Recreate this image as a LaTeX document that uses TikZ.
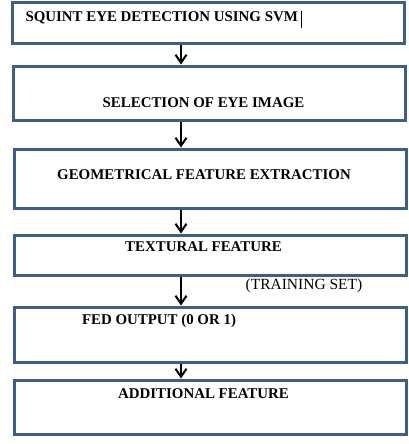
\documentclass[tikz,border=0pt]{standalone}
\usepackage{fontspec}
\setmainfont{Liberation Serif}
\usetikzlibrary{arrows.meta, positioning}
\definecolor{cframe}{HTML}{3B5E8C}
\tikzset{
  every picture/.style={line width=1pt},
  box/.style={draw=cframe, line width=3pt, minimum width=392pt, inner sep=0pt},
  arrow/.style={-{Straight Barb[length=8pt, width=11pt, line width=2pt]}, draw=black, line width=2.4pt},
  label/.style={font=\fontsize{14.9}{17}\selectfont\bfseries, inner sep=0pt},
  note/.style={font=\fontsize{15.5}{17}\selectfont, inner sep=0pt},
}
\begin{document}
\begin{tikzpicture}[x=1pt, y=-1pt]
  \useasboundingbox (0,0) rectangle (408,444);
  % boxes
  \node[box, minimum height=41pt] (b1) at (208,23.5) {};
  \node[box, minimum height=54pt] (b2) at (209,93) {};
  \node[box, minimum height=59pt] (b3) at (210,178.5) {};
  \node[box, minimum height=40pt] (b4) at (210,255) {};
  \node[box, minimum height=55pt] (b5) at (210,334.5) {};
  \node[box, minimum height=54pt] (b6) at (210,407) {};
  % texts
  \node[label, anchor=west] (t1) at (25,18) {SQUINT EYE DETECTION USING SVM};
  \draw[black, line width=1.3pt] ([xshift=3pt]t1.east |- 0,11) -- ([xshift=3pt]t1.east |- 0,28);
  \node[label] (t2) at (203.5,103) {SELECTION OF EYE IMAGE};
  \node[label] (t3) at (204,175) {GEOMETRICAL FEATURE EXTRACTION};
  \node[label] (t4) at (203.5,247) {TEXTURAL FEATURE};
  \node[note] (t7) at (304,286) {(TRAINING SET)};
  \node[label] (t5) at (159,321) {FED OUTPUT (0 OR 1)};
  \node[label] (t6) at (203.5,394) {ADDITIONAL FEATURE};
  % arrows
  \coordinate (ax) at (181,0);
  \foreach \a/\b in {b1/b2, b2/b3, b3/b4, b4/b5, b5/b6}
    \draw[arrow] (\a.south -| ax) -- (\b.north -| ax);
\end{tikzpicture}
\end{document}
